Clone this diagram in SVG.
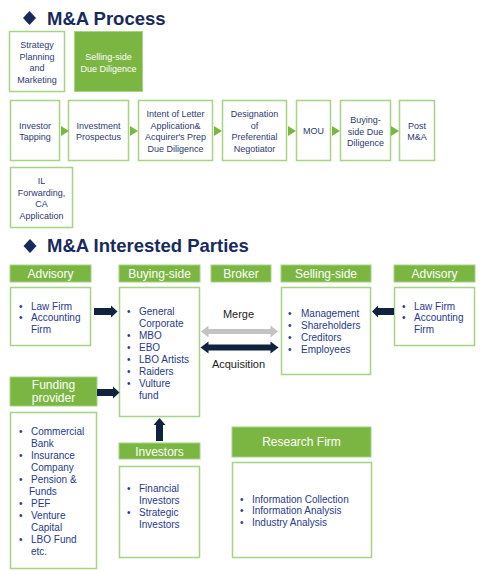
<svg xmlns="http://www.w3.org/2000/svg" width="500" height="571" viewBox="0 0 500 571">
<defs>
<style>
.t{font-family:"Liberation Sans",Arial,sans-serif;}
.title{font-family:"Liberation Sans",Arial,sans-serif;font-weight:bold;font-size:18.5px;fill:#172a5e;}
.box{fill:#fff;stroke:#a6d384;stroke-width:1.5;}
.gbox{fill:#7ab641;stroke:#a6d384;stroke-width:1;}
.ptxt{font-family:"Liberation Sans",Arial,sans-serif;font-size:9px;fill:#2e3a6e;text-anchor:middle;}
.ptw{font-family:"Liberation Sans",Arial,sans-serif;font-size:9px;fill:#fff;text-anchor:middle;}
.hdr{font-family:"Liberation Sans",Arial,sans-serif;font-size:12px;fill:#fff;text-anchor:middle;}
.li{font-family:"Liberation Sans",Arial,sans-serif;font-size:10px;fill:#283a8a;}
.lbl{font-family:"Liberation Sans",Arial,sans-serif;font-size:11px;fill:#222;text-anchor:middle;}
.tri{fill:#7ab641;}
.dk{fill:#0f2340;}
.gr{fill:#c3c3c3;}
</style>
</defs>
<rect width="500" height="571" fill="#fff"/>

<g id="title1">
<polygon points="29.5,11 36,18 29.5,25 23,18" fill="#172a5e"/>
<text class="title" x="47" y="25">M&amp;A Process</text>
</g>

<g id="n-strategy"><rect class="box" x="9.5" y="31.5" width="55" height="60"/>
<text class="ptxt" x="37" y="48">Strategy</text><text class="ptxt" x="37" y="59.5">Planning</text><text class="ptxt" x="37" y="71">and</text><text class="ptxt" x="37" y="82.5">Marketing</text></g>
<g id="n-selldd"><rect class="gbox" x="74.5" y="31.5" width="68" height="60"/>
<text class="ptw" x="108.5" y="60">Selling-side</text><text class="ptw" x="108.5" y="71.5">Due Diligence</text></g>

<g id="n-tapping"><rect class="box" x="10.5" y="100.5" width="49" height="60"/>
<text class="ptxt" x="35" y="128.5">Investor</text><text class="ptxt" x="35" y="140">Tapping</text></g>
<g id="n-prospectus"><rect class="box" x="68.5" y="100.5" width="60" height="60"/>
<text class="ptxt" x="98.5" y="128.5">Investment</text><text class="ptxt" x="98.5" y="140">Prospectus</text></g>
<g id="n-intent"><rect class="box" x="138.5" y="100.5" width="74" height="60"/>
<text class="ptxt" x="175.5" y="117">Intent of Letter</text><text class="ptxt" x="175.5" y="128.5">Application&amp;</text><text class="ptxt" x="175.5" y="140">Acquirer's Prep</text><text class="ptxt" x="175.5" y="151.5">Due Diligence</text></g>
<g id="n-designation"><rect class="box" x="222.5" y="100.5" width="64" height="60"/>
<text class="ptxt" x="254.5" y="117">Designation</text><text class="ptxt" x="254.5" y="128.5">of</text><text class="ptxt" x="254.5" y="140">Preferential</text><text class="ptxt" x="254.5" y="151.5">Negotiator</text></g>
<g id="n-mou"><rect class="box" x="296.5" y="100.5" width="34" height="60"/>
<text class="ptxt" x="313.5" y="134">MOU</text></g>
<g id="n-buydd"><rect class="box" x="340.5" y="100.5" width="50" height="60"/>
<text class="ptxt" x="365.5" y="123">Buying-</text><text class="ptxt" x="365.5" y="134.5">side Due</text><text class="ptxt" x="365.5" y="146">Diligence</text></g>
<g id="n-post"><rect class="box" x="399.5" y="100.5" width="35" height="60"/>
<text class="ptxt" x="417" y="128.5">Post</text><text class="ptxt" x="417" y="140">M&amp;A</text></g>
<g id="n-il"><rect class="box" x="10.5" y="167.5" width="62" height="60"/>
<text class="ptxt" x="41.5" y="184">IL</text><text class="ptxt" x="41.5" y="195.5">Forwarding,</text><text class="ptxt" x="41.5" y="207">CA</text><text class="ptxt" x="41.5" y="218.5">Application</text></g>

<g id="title2">
<polygon points="30,239 36.5,246 30,253 23.5,246" fill="#172a5e"/>
<text class="title" x="47" y="252">M&amp;A Interested Parties</text>
</g>

<g id="n-advisory-l">
<rect class="gbox" x="10" y="265" width="81" height="17"/><text class="hdr" x="50.5" y="278">Advisory</text>
<rect class="box" x="10.5" y="287.5" width="80" height="58"/>
<text class="li" x="19" y="309.5">•</text><text class="li" x="31" y="309.5">Law Firm</text>
<text class="li" x="19" y="321">•</text><text class="li" x="31" y="321">Accounting</text>
<text class="li" x="31" y="332.5">Firm</text>
</g>
<g id="n-buying">
<rect class="gbox" x="119" y="265" width="81" height="17"/><text class="hdr" x="159.5" y="278">Buying-side</text>
<rect class="box" x="119.5" y="287.5" width="80" height="129"/>
<text class="li" x="127" y="315">•</text><text class="li" x="139" y="315">General</text>
<text class="li" x="139" y="327">Corporate</text>
<text class="li" x="127" y="338.5">•</text><text class="li" x="139" y="338.5">MBO</text>
<text class="li" x="127" y="350.5">•</text><text class="li" x="139" y="350.5">EBO</text>
<text class="li" x="127" y="362.5">•</text><text class="li" x="139" y="362.5">LBO Artists</text>
<text class="li" x="127" y="374.5">•</text><text class="li" x="139" y="374.5">Raiders</text>
<text class="li" x="127" y="386.5">•</text><text class="li" x="139" y="386.5">Vulture</text>
<text class="li" x="139" y="398.5">fund</text>
</g>
<g id="n-broker">
<rect class="gbox" x="211" y="265" width="60" height="17"/><text class="hdr" x="241" y="278">Broker</text>
</g>
<g id="n-selling">
<rect class="gbox" x="281" y="265" width="90" height="17"/><text class="hdr" x="326" y="278">Selling-side</text>
<rect class="box" x="281.5" y="287.5" width="89" height="87"/>
<text class="li" x="288" y="316.5">•</text><text class="li" x="301" y="316.5">Management</text>
<text class="li" x="288" y="328.5">•</text><text class="li" x="301" y="328.5">Shareholders</text>
<text class="li" x="288" y="340.5">•</text><text class="li" x="301" y="340.5">Creditors</text>
<text class="li" x="288" y="352.5">•</text><text class="li" x="301" y="352.5">Employees</text>
</g>
<g id="n-advisory-r">
<rect class="gbox" x="394" y="265" width="81" height="17"/><text class="hdr" x="434.5" y="278">Advisory</text>
<rect class="box" x="394.5" y="287.5" width="80" height="58"/>
<text class="li" x="402" y="309.5">•</text><text class="li" x="414" y="309.5">Law Firm</text>
<text class="li" x="402" y="321">•</text><text class="li" x="414" y="321">Accounting</text>
<text class="li" x="414" y="332.5">Firm</text>
</g>
<g id="n-funding">
<rect class="gbox" x="10" y="377" width="87" height="29"/>
<text class="hdr" x="53.5" y="389">Funding</text><text class="hdr" x="53.5" y="402">provider</text>
<rect class="box" x="10.5" y="412.5" width="86" height="156"/>
<text class="li" x="19" y="434.5">•</text><text class="li" x="31" y="434.5">Commercial</text>
<text class="li" x="31" y="446.5">Bank</text>
<text class="li" x="19" y="458.5">•</text><text class="li" x="31" y="458.5">Insurance</text>
<text class="li" x="31" y="470.5">Company</text>
<text class="li" x="19" y="482.5">•</text><text class="li" x="31" y="482.5">Pension  &amp;</text>
<text class="li" x="29" y="494.5">Funds</text>
<text class="li" x="19" y="506.5">•</text><text class="li" x="31" y="506.5">PEF</text>
<text class="li" x="19" y="518.5">•</text><text class="li" x="31" y="518.5">Venture</text>
<text class="li" x="31" y="530.5">Capital</text>
<text class="li" x="19" y="542.5">•</text><text class="li" x="31" y="542.5">LBO Fund</text>
<text class="li" x="31" y="554.5">etc.</text>
</g>
<g id="n-investors">
<rect class="gbox" x="119" y="443" width="81" height="16"/><text class="hdr" x="159.5" y="455.5">Investors</text>
<rect class="box" x="119.5" y="466.5" width="80" height="91"/>
<text class="li" x="127" y="491.5">•</text><text class="li" x="139" y="491.5">Financial</text>
<text class="li" x="139" y="503.5">Investors</text>
<text class="li" x="127" y="515.5">•</text><text class="li" x="139" y="515.5">Strategic</text>
<text class="li" x="139" y="527.5">Investors</text>
</g>
<g id="n-research">
<rect class="gbox" x="232" y="427" width="139" height="30"/><text class="hdr" x="301.5" y="446">Research Firm</text>
<rect class="box" x="232.5" y="462.5" width="139" height="95"/>
<text class="li" x="240" y="502.5">•</text><text class="li" x="252" y="502.5">Information  Collection</text>
<text class="li" x="240" y="514">•</text><text class="li" x="252" y="514">Information  Analysis</text>
<text class="li" x="240" y="525.5">•</text><text class="li" x="252" y="525.5">Industry Analysis</text>
</g>

<g id="connectors">
<polygon class="tri" points="61,126 69,131 61,136"/>
<polygon class="tri" points="130,126 138,131 130,136"/>
<polygon class="tri" points="214,126 222,131 214,136"/>
<polygon class="tri" points="288,126 296,131 288,136"/>
<polygon class="tri" points="332,126 340,131 332,136"/>
<polygon class="tri" points="391,126 399,131 391,136"/>
<polygon class="dk" points="94,308 111,308 111,305.5 117.5,311.5 111,317.5 111,315 94,315"/>
<polygon class="dk" points="97,389 113,389 113,386.5 119.5,392.5 113,398.5 113,396 97,396"/>
<polygon class="dk" points="156,441 156,425 153.5,425 159.5,418 165.5,425 163,425 163,441"/>
<polygon class="dk" points="394,308 378,308 378,305.5 372,311.5 378,317.5 378,315 394,315"/>
<polygon class="gr" points="201,331.5 208.5,325.5 208.5,329 270.5,329 270.5,325.5 278,331.5 270.5,337.5 270.5,334 208.5,334 208.5,337.5"/>
<polygon class="dk" points="200.5,347.5 208.5,341.5 208.5,344.5 270.5,344.5 270.5,341.5 278.5,347.5 270.5,353.5 270.5,350.5 208.5,350.5 208.5,353.5"/>
<text class="lbl" x="238.5" y="318">Merge</text>
<text class="lbl" x="238.5" y="368">Acquisition</text>
</g>
</svg>
